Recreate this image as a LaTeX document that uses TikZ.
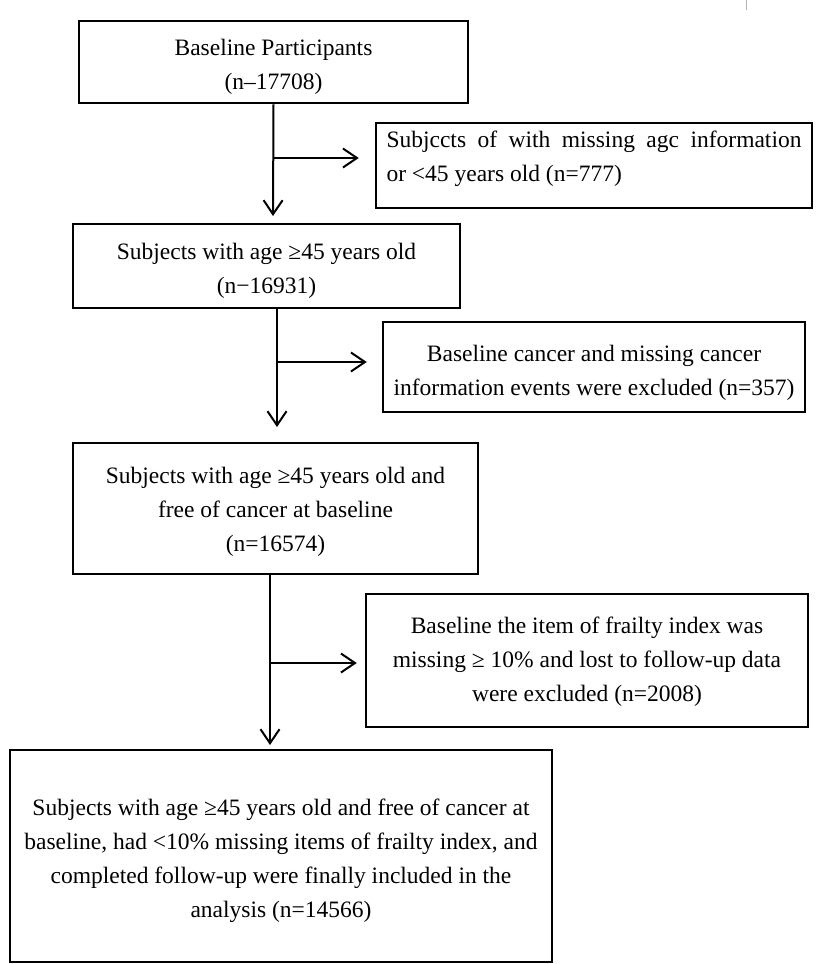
\documentclass[tikz,border=0pt]{standalone}
\usepackage{fontspec}
\setmainfont{Liberation Serif}
\usetikzlibrary{arrows.meta}
% #1 declared height, #2 declared depth (relative to first baseline), #3 lines
\newcommand\btext[3]{\raisebox{0pt}[#1][#2]{\begin{tabular}[t]{@{}c@{}}#3\end{tabular}}}
\newcommand\ltext[3]{\raisebox{0pt}[#1][#2]{\begin{tabular}[t]{@{}l@{}}#3\end{tabular}}}
\begin{document}
\begin{tikzpicture}[x=1bp,y=-1bp,
  box/.style={draw=black, line width=2.5bp, rectangle, inner sep=0pt,
    font=\fontsize{23.5bp}{34bp}\selectfont},
  arr/.style={line width=2bp, -{Straight Barb[length=14bp,width=19bp,line width=2bp]}}]
\useasboundingbox (0,0) rectangle (833,964);
\draw[gray!60, line width=1bp] (746,0) -- (746,10);
% main boxes
\node[box, minimum width=389bp, minimum height=82bp] (b1) at (273.5,62)
  {\btext{0bp}{14bp}{Baseline Participants\\(n–17708)}};
\node[box, minimum width=387bp, minimum height=84bp] (b2) at (266.5,266)
  {\btext{0bp}{14bp}{Subjects with age ≥45 years old\\(n−16931)}};
\node[box, minimum width=405bp, minimum height=131bp] (b3) at (275.5,508.5)
  {\btext{0bp}{51bp}{Subjects with age ≥45 years old and\\free of cancer at baseline\\(n=16574)}};
\node[box, minimum width=542bp, minimum height=212bp] (b4) at (281,856)
  {\btext{0bp}{82bp}{Subjects with age ≥45 years old and free of cancer at\\baseline, had <10\% missing items of frailty index, and\\completed follow-up were finally included in the\\analysis (n=14566)}};
% exclusion boxes
\node[box, minimum width=436bp, minimum height=85bp] (e1) at (594,165.5)
  {\ltext{0bp}{37bp}{\makebox[415bp][s]{Subjccts of with missing agc information}\\or <45 years old (n=777)}};
\node[box, minimum width=422bp, minimum height=90bp] (e2) at (594,367)
  {\btext{0bp}{12bp}{Baseline cancer and missing cancer\\information events were excluded (n=357)}};
\node[box, minimum width=442bp, minimum height=133bp] (e3) at (587,660.5)
  {\btext{0bp}{55bp}{Baseline the item of frailty index was\\missing ≥ 10\% and lost to follow-up data\\were excluded (n=2008)}};
% junction coordinates
\coordinate (j1) at (273,158);
\coordinate (t1) at (273,216);
\coordinate (j2) at (277,362);
\coordinate (t2) at (277,427);
\coordinate (j3) at (270,663);
\coordinate (t3) at (270,745);
% connectors
\draw[arr] (b1.south) -- (t1);
\draw[arr] (j1) -- ([xshift=-16bp]j1 -| e1.west);
\draw[arr] (b2.south -| j2) -- (t2);
\draw[arr] (j2) -- ([xshift=-15bp]j2 -| e2.west);
\draw[arr] (b3.south -| j3) -- (t3);
\draw[arr] (j3) -- ([xshift=-8bp]j3 -| e3.west);
\end{tikzpicture}
\end{document}
